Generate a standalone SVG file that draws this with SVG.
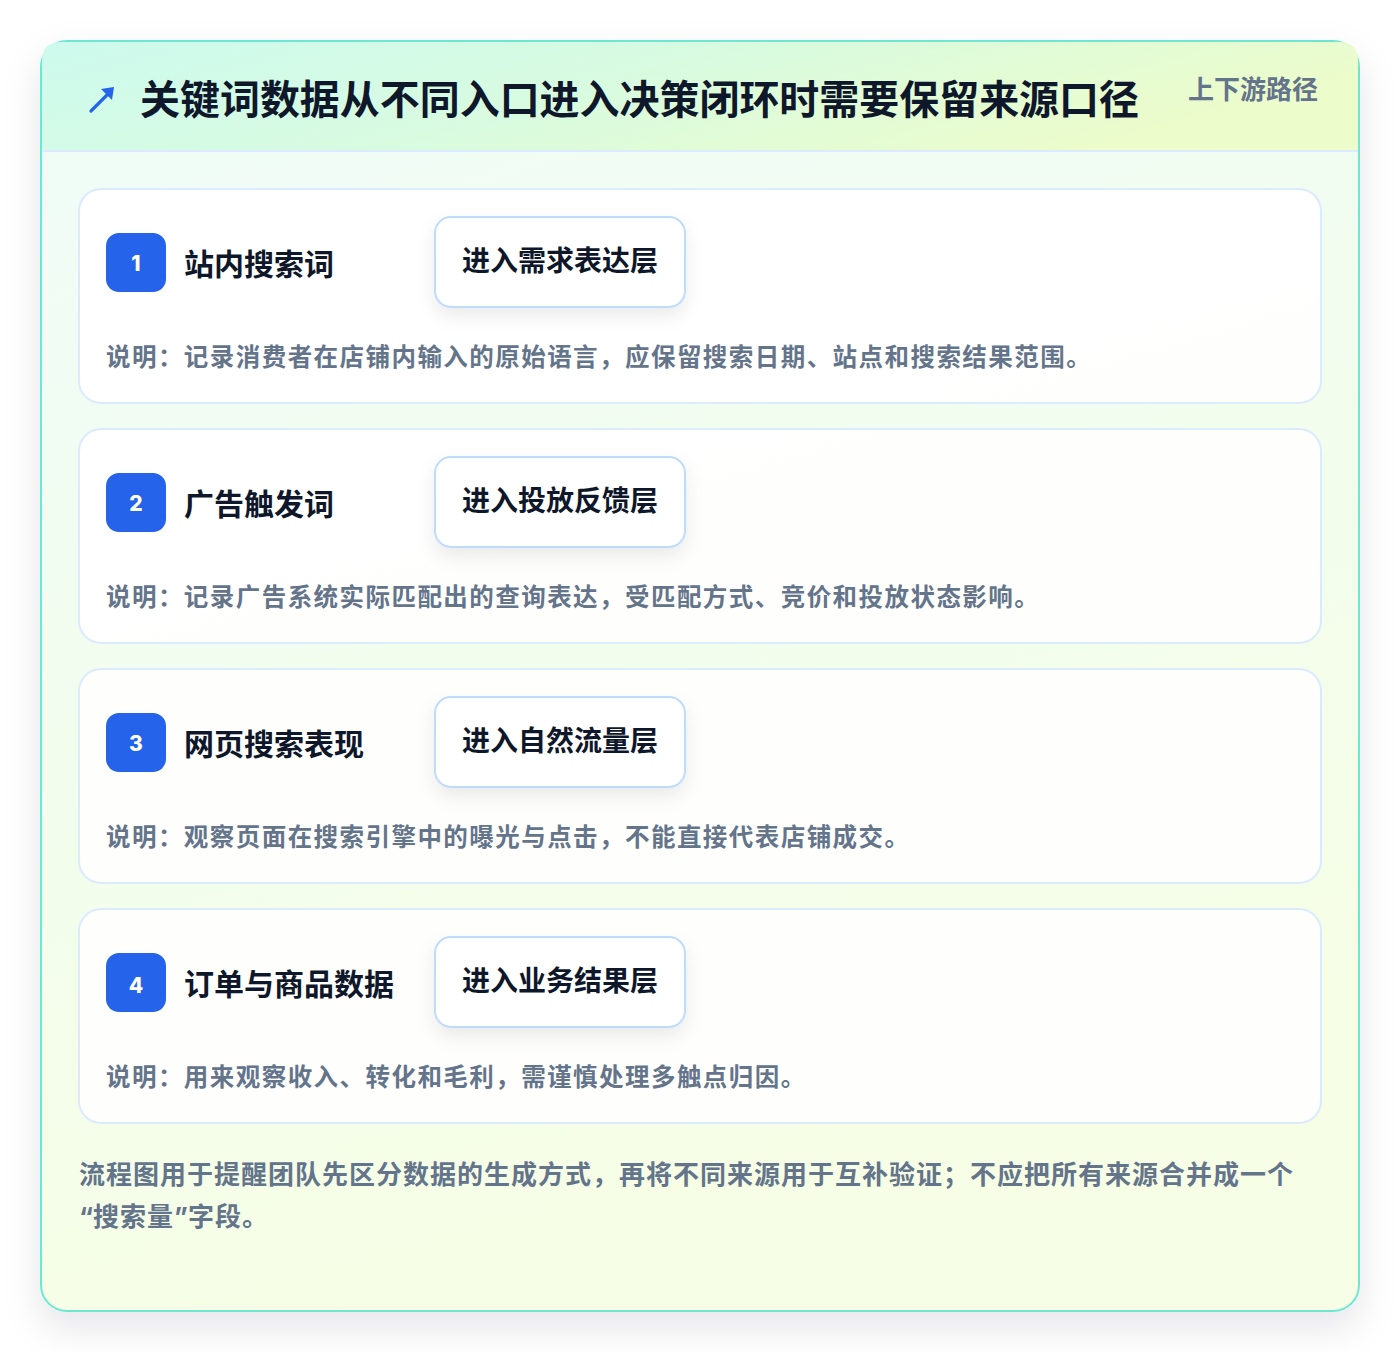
<svg xmlns="http://www.w3.org/2000/svg" width="1400" height="1352" viewBox="0 0 1400 1352">
<style>
.cjk{font-family:"Noto Sans CJK SC","Noto Sans",sans-serif;font-weight:700}
.lat{font-family:"Inter","Liberation Sans",sans-serif;font-weight:700}
.ttl{font-size:40px;fill:#0f172a}
.tag{font-size:26px;fill:#64748b}
.card{fill:#ffffff;fill-opacity:0.88;stroke:#dbeafe;stroke-width:2}
.badge{fill:#2563eb}
.num{font-family:"Inter","Noto Sans",sans-serif;font-weight:800;font-size:21px;fill:#ffffff}
.name{font-size:30px;fill:#0f172a}
.btn{fill:#ffffff;stroke:#bfdbfe;stroke-width:2}
.btxt{font-size:28px;fill:#0f172a}
.desc{font-size:24.5px;fill:#64748b;letter-spacing:1.45px}
.foot{font-size:26px;fill:#64748b;letter-spacing:1px}
</style>
<defs>
<linearGradient id="hdr" x1="0" y1="0" x2="1" y2="0.3">
<stop offset="0" stop-color="#cdfaee"/>
<stop offset="0.5" stop-color="#d8fbe0"/>
<stop offset="1" stop-color="#ecfccb"/>
</linearGradient>
<linearGradient id="body" x1="0" y1="0" x2="0.3" y2="1">
<stop offset="0" stop-color="#effcf8"/>
<stop offset="1" stop-color="#f6fee5"/>
</linearGradient>
<filter id="outsh" x="-10%" y="-10%" width="120%" height="125%">
<feDropShadow dx="0" dy="16" stdDeviation="18" flood-color="#0f172a" flood-opacity="0.10"/>
</filter>
<filter id="btnsh" x="-20%" y="-30%" width="140%" height="180%">
<feDropShadow dx="0" dy="8" stdDeviation="9" flood-color="#0f172a" flood-opacity="0.08"/>
</filter>
</defs>
<rect width="1400" height="1352" fill="#ffffff"/>
<g id="frame">
<rect x="41" y="41" width="1318" height="1270" rx="26" fill="url(#body)" stroke="#6ee7d2" stroke-width="2" filter="url(#outsh)"/>
<path d="M61,42 H1339 Q1358,42 1358,61 V151 H42 V61 Q42,42 61,42 Z" fill="url(#hdr)"/>
<line x1="42" y1="151" x2="1358" y2="151" stroke="#dbeafe" stroke-width="2"/>
</g>
<g id="header">
<line x1="91" y1="111" x2="109" y2="93" stroke="#2563eb" stroke-width="3.2" stroke-linecap="round"/>
<path d="M114,87 L112,100 L101,89 Z" fill="#2563eb"/>
<text class="cjk ttl" x="140" y="114" textLength="999" lengthAdjust="spacingAndGlyphs">关键词数据从不同入口进入决策闭环时需要保留来源口径</text>
<text class="cjk tag" x="1318" y="99" text-anchor="end">上下游路径</text>
</g>
<g id="node1">
<rect class="card" x="79" y="189" width="1242" height="214" rx="22"/>
<rect class="badge" x="106" y="233" width="60" height="59" rx="13"/>
<text class="num" x="136" y="270.5" text-anchor="middle">1</text>
<text class="cjk name" x="184" y="275">站内搜索词</text>
<rect class="btn" x="435" y="217" width="250" height="90" rx="16" filter="url(#btnsh)"/>
<text class="cjk btxt" x="560" y="271" text-anchor="middle">进入需求表达层</text>
<text class="cjk desc" x="106" y="366">说明：记录消费者在店铺内输入的原始语言，应保留搜索日期、站点和搜索结果范围。</text>
</g>
<g id="node2">
<rect class="card" x="79" y="429" width="1242" height="214" rx="22"/>
<rect class="badge" x="106" y="473" width="60" height="59" rx="13"/>
<text class="num" x="136" y="510.5" text-anchor="middle">2</text>
<text class="cjk name" x="184" y="515">广告触发词</text>
<rect class="btn" x="435" y="457" width="250" height="90" rx="16" filter="url(#btnsh)"/>
<text class="cjk btxt" x="560" y="511" text-anchor="middle">进入投放反馈层</text>
<text class="cjk desc" x="106" y="606">说明：记录广告系统实际匹配出的查询表达，受匹配方式、竞价和投放状态影响。</text>
</g>
<g id="node3">
<rect class="card" x="79" y="669" width="1242" height="214" rx="22"/>
<rect class="badge" x="106" y="713" width="60" height="59" rx="13"/>
<text class="num" x="136" y="750.5" text-anchor="middle">3</text>
<text class="cjk name" x="184" y="755">网页搜索表现</text>
<rect class="btn" x="435" y="697" width="250" height="90" rx="16" filter="url(#btnsh)"/>
<text class="cjk btxt" x="560" y="751" text-anchor="middle">进入自然流量层</text>
<text class="cjk desc" x="106" y="846">说明：观察页面在搜索引擎中的曝光与点击，不能直接代表店铺成交。</text>
</g>
<g id="node4">
<rect class="card" x="79" y="909" width="1242" height="214" rx="22"/>
<rect class="badge" x="106" y="953" width="60" height="59" rx="13"/>
<text class="num" x="136" y="992.5" text-anchor="middle">4</text>
<text class="cjk name" x="184" y="995">订单与商品数据</text>
<rect class="btn" x="435" y="937" width="250" height="90" rx="16" filter="url(#btnsh)"/>
<text class="cjk btxt" x="560" y="991" text-anchor="middle">进入业务结果层</text>
<text class="cjk desc" x="106" y="1086">说明：用来观察收入、转化和毛利，需谨慎处理多触点归因。</text>
</g>
<g id="connectors"></g>
<g id="footer">
<text class="cjk foot" x="79" y="1184">流程图用于提醒团队先区分数据的生成方式，再将不同来源用于互补验证；不应把所有来源合并成一个</text>
<text class="cjk foot" x="79" y="1226"><tspan class="lat" letter-spacing="0">“</tspan>搜索量<tspan class="lat" letter-spacing="0">”</tspan>字段。</text>
</g>
</svg>
